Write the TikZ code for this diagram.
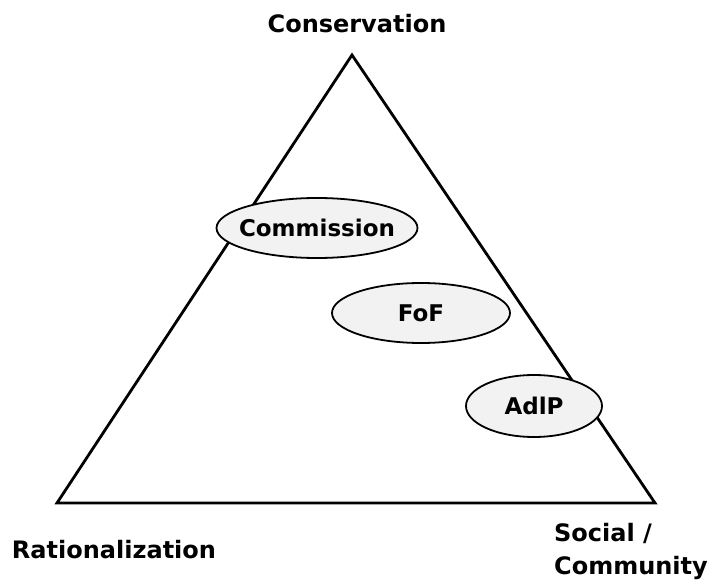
\documentclass[tikz,border=0pt]{standalone}
\usepackage{fontspec}
\setmainfont{DejaVu Sans}
\usetikzlibrary{shapes.geometric}
\definecolor{oval-fill}{HTML}{F2F2F2}

\begin{document}
\begin{tikzpicture}[x=1pt, y=-1pt,
    every node/.style={font=\bfseries\fontsize{24}{33}\selectfont},
    oval/.style={draw, ellipse, line width=1.8pt, fill=oval-fill,
      inner xsep=-30pt, inner ysep=0pt,
      font=\bfseries\fontsize{23}{28}\selectfont}]
  \useasboundingbox (0,0) rectangle (716,580);
  % corners of the triangle
  \coordinate (top) at (352, 55);
  \coordinate (left) at (57, 503);
  \coordinate (right) at (655, 503);
  \draw[line width=2.8pt, line join=miter] (top) -- (left) -- (right) -- cycle;
  % actors
  \node[oval, minimum width=201pt, minimum height=60pt] (com) at (317, 228)
    {Commission};
  \node[oval, minimum width=178pt, minimum height=60pt] (fof) at (421, 313)
    {FoF};
  \node[oval, minimum width=136pt, minimum height=62pt] (adlp) at (534, 406)
    {AdlP};
  % poles
  \node (cons) at (357, 24) {Conservation};
  \node (rat) at (114, 550) {Rationalization};
  \node[align=left, anchor=west, inner sep=0pt] (soc) at (554, 551) {Social /\\Community};
\end{tikzpicture}
\end{document}
